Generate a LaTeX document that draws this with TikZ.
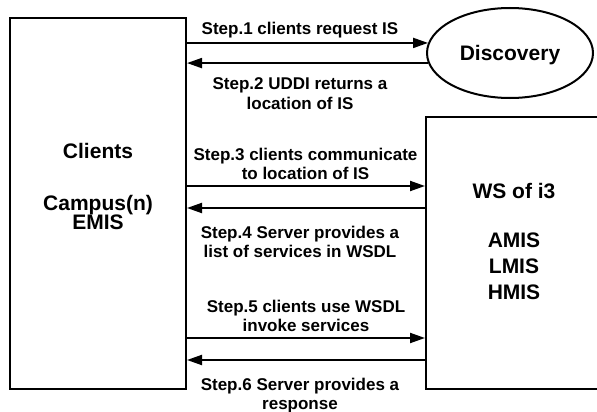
\documentclass[tikz,border=0pt]{standalone}
\usepackage{fontspec}
\setmainfont{Liberation Sans}
\usetikzlibrary{shapes.geometric, arrows.meta}
\tikzset{bx/.style = {draw, line width=2pt, inner sep=0pt},
         el/.style = {ellipse, draw, line width=2pt, inner sep=0pt, text depth=0pt,
                      minimum width=166pt, minimum height=90pt, font=\bfseries\fontsize{21}{26}\selectfont},
         tx/.style = {align=center, inner sep=0pt, anchor=north, font=\bfseries\fontsize{21}{26}\selectfont},
         sl/.style = {align=center, inner sep=0pt, anchor=north, font=\bfseries\fontsize{17}{19.5}\selectfont}}

\begin{document}
\begin{tikzpicture}[x=1pt, y=-1pt, >={Triangle[length=15pt, width=10pt]}, line width=2pt]
    \useasboundingbox (0,0) rectangle (597,412);
    \node[bx, minimum width=176pt, minimum height=371pt] (cl) at (98,203.5) {};
    \node[bx, minimum width=173pt, minimum height=272pt] (ws) at (512.5,253) {};
    \node[el] (ds) at (510,53) {Discovery};
    \node[tx, font=\bfseries\fontsize{21}{19.5}\selectfont] (ct) at (98,142) {Clients\\[32.5pt]Campus(n)\\EMIS};
    \node[tx] (wt) at (514,182) {WS of i3\\[23pt]AMIS\\LMIS\\HMIS};
    \node[sl] (s1) at (300,20.7) {Step.1 clients request IS};
    \node[sl] (s2) at (300,77) {Step.2 UDDI returns a\\location of IS};
    \node[sl] (s3) at (305.5,147) {Step.3 clients communicate\\to location of IS};
    \node[sl] (s4) at (300,225) {Step.4 Server provides a\\list of services in WSDL};
    \node[sl] (s5) at (306,299) {Step.5 clients use WSDL\\invoke services};
    \node[sl] (s6) at (300,377) {Step.6 Server provides a\\response};
    \coordinate (p3) at (426,186); \coordinate (p4) at (426,208);
    \coordinate (p5) at (426,338); \coordinate (p6) at (426,360);
    \draw[->] (cl.east |- ds.173) -- (ds.173);
    \draw[<-] (cl.east |- ds.187) -- (ds.187);
    \draw[->] (cl.east |- p3) -- (ws.west |- p3);
    \draw[<-] (cl.east |- p4) -- (ws.west |- p4);
    \draw[->] (cl.east |- p5) -- (ws.west |- p5);
    \draw[<-] (cl.east |- p6) -- (ws.west |- p6);
\end{tikzpicture}
\end{document}
